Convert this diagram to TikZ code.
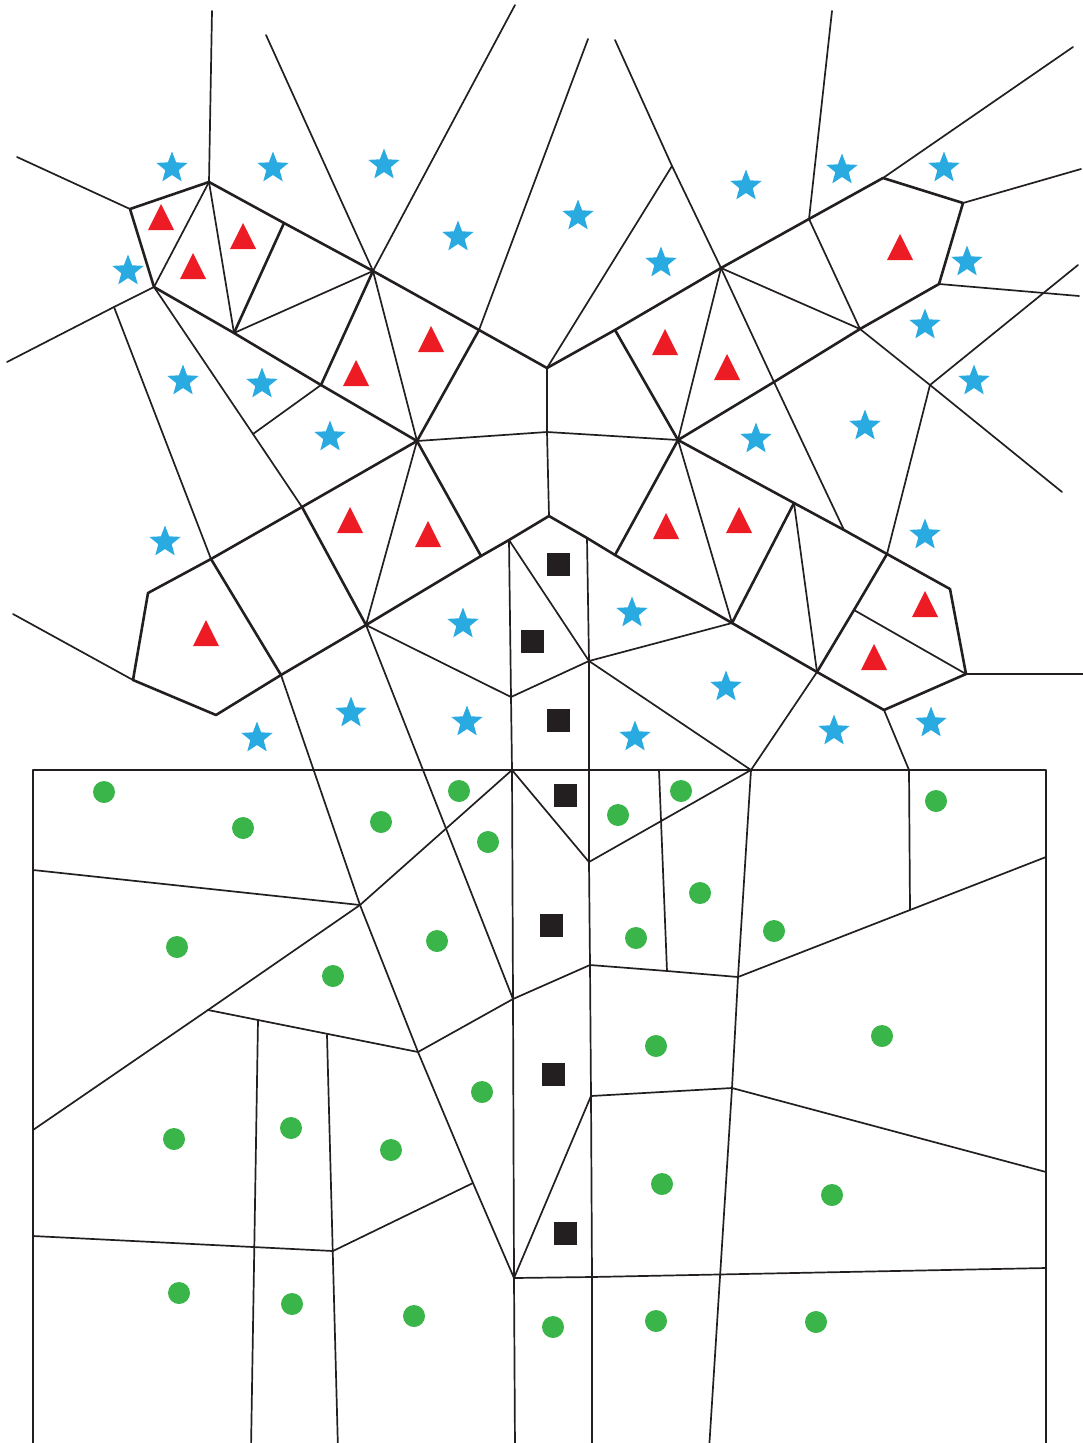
\documentclass[tikz,border=0pt]{standalone}
\usetikzlibrary{shapes.geometric}
\definecolor{lk}{HTML}{231F20}
\definecolor{sb}{HTML}{29ABE2}
\definecolor{trd}{HTML}{ED1C24}
\definecolor{gc}{HTML}{39B54A}
\begin{document}
\begin{tikzpicture}[x=1pt,y=-1pt,
  ln/.style={draw=lk,line width=1.7pt,line cap=round,line join=round},
  lb/.style={draw=lk,line width=2.6pt,line cap=round,line join=round},
  starmark/.style={star,star points=5,star point ratio=2.35,fill=sb,draw=none,inner sep=0pt,minimum size=33pt},
  sqmark/.style={rectangle,fill=lk,draw=none,inner sep=0pt,minimum size=23pt},
  dotmark/.style={circle,fill=gc,draw=none,inner sep=0pt,minimum size=22pt},
  trimark/.pic={\fill[trd] (-13,13) -- (0,-13) -- (13,13) -- cycle;}]
\useasboundingbox (0,0) rectangle (1083,1443);
\clip (0,0) rectangle (1083,1443);
% vertices (upper)
\coordinate (A) at (130,209); \coordinate (B) at (209,182);
\coordinate (C) at (154,287); \coordinate (D1) at (284,223);
\coordinate (E) at (373,271); \coordinate (F) at (234,333);
\coordinate (G) at (321,385); \coordinate (H) at (417,441);
\coordinate (J) at (479,330); \coordinate (K) at (547,368);
\coordinate (L) at (615,330); \coordinate (M) at (721,268);
\coordinate (N) at (672,166); \coordinate (P) at (809,219);
\coordinate (Q) at (883,178); \coordinate (R) at (963,203);
\coordinate (S) at (939,284); \coordinate (T) at (860,329);
\coordinate (U) at (774,382); \coordinate (V) at (678,440);
\coordinate (W) at (930,385); \coordinate (X) at (547,432);
\coordinate (Y) at (549,516); \coordinate (Z) at (114,307);
\coordinate (a1) at (253,434); \coordinate (a2) at (302,507);
\coordinate (a3) at (211,559); \coordinate (a4) at (148,593);
\coordinate (a5) at (133,680); \coordinate (a6) at (216,715);
\coordinate (a7) at (281,675); \coordinate (I) at (366,625);
\coordinate (b1) at (481,556); \coordinate (b2) at (509,540);
\coordinate (b3) at (587,538); \coordinate (b4) at (615,555);
\coordinate (b5) at (732,623); \coordinate (b6) at (794,503);
\coordinate (b7) at (844,530); \coordinate (b8) at (887,554);
\coordinate (b9) at (950,589); \coordinate (b10) at (966,674);
\coordinate (b11) at (884,710); \coordinate (b12) at (817,672);
\coordinate (b13) at (854,610); \coordinate (c1) at (511,697);
\coordinate (c2) at (589,661);
% vertices (lower)
\coordinate (d1) at (512,770); \coordinate (d2) at (589,770);
\coordinate (d3) at (659,770); \coordinate (d4) at (751,770);
\coordinate (d5) at (909,770);
\coordinate (e1) at (360,905); \coordinate (e2) at (33,870);
\coordinate (e3) at (208,1010); \coordinate (e4) at (33,1130);
\coordinate (e5) at (418,1052); \coordinate (e6) at (258,1020);
\coordinate (e7) at (327,1035); \coordinate (e8) at (513,999);
\coordinate (e9) at (589,862); \coordinate (e10) at (590,965);
\coordinate (e11) at (667,971); \coordinate (e12) at (738,977);
\coordinate (e13) at (910,910); \coordinate (e14) at (1046,857);
\coordinate (e15) at (591,1096); \coordinate (e16) at (732,1088);
\coordinate (e17) at (1046,1172); \coordinate (e18) at (514,1278);
\coordinate (e19) at (592,1277); \coordinate (e20) at (1046,1268);
\coordinate (e21) at (473,1183); \coordinate (e22) at (33,1236);
\coordinate (e23) at (333,1251);
% thin upper edges
\draw[ln] (17,157) -- (A);
\draw[ln] (212,11) -- (B);
\draw[ln] (266,35) -- (E);
\draw[ln] (515,5) -- (E);
\draw[ln] (588,39) -- (J);
\draw[ln] (615,40) -- (N) -- (M);
\draw[ln] (832,11) -- (P);
\draw[ln] (1073,47) -- (Q);
\draw[ln] (1081,169) -- (R);
\draw[ln] (1079,296) -- (S);
\draw[ln] (1078,265) -- (W);
\draw[ln] (1062,492) -- (W);
\draw[ln] (1083,674) -- (b10);
\draw[ln] (7,362) -- (Z) -- (C);
\draw[ln] (13,614) -- (a5);
\draw[ln] (B) -- (C);
\draw[ln] (B) -- (F);
\draw[ln] (F) -- (E);
\draw[ln] (E) -- (H);
\draw[ln] (N) -- (K);
\draw[ln] (K) -- (X) -- (Y);
\draw[ln] (M) -- (V);
\draw[ln] (P) -- (T);
\draw[ln] (M) -- (T);
\draw[ln] (M) -- (U) -- (b7);
\draw[ln] (T) -- (W) -- (b8);
\draw[ln] (V) -- (b5);
\draw[ln] (V) -- (X) -- (H);
\draw[ln] (H) -- (I);
\draw[ln] (C) -- (a1) -- (a2);
\draw[ln] (a1) -- (G);
\draw[ln] (Z) -- (a3);
\draw[ln] (b2) -- (c1);
\draw[ln] (b2) -- (c2);
\draw[ln] (b3) -- (c2) -- (d2);
\draw[ln] (I) -- (c1) -- (c2) -- (b5);
\draw[ln] (c2) -- (d4);
\draw[ln] (I) -- (e8);
\draw[ln] (c1) -- (d1);
\draw[ln] (a7) -- (e1);
\draw[ln] (b12) -- (d4);
\draw[ln] (b11) -- (d5);
\draw[ln] (b6) -- (b12);
\draw[ln] (b13) -- (b10);
% bold upper edges
\draw[lb] (B) -- (A) -- (C) -- (F) -- (G);
\draw[lb] (B) -- (D1) -- (E);
\draw[lb] (D1) -- (F);
\draw[lb] (G) -- (E);
\draw[lb] (G) -- (H);
\draw[lb] (E) -- (J) -- (K);
\draw[lb] (J) -- (H);
\draw[lb] (K) -- (L) -- (M) -- (P) -- (Q) -- (R) -- (S) -- (T) -- (U) -- (V);
\draw[lb] (L) -- (V);
\draw[lb] (V) -- (b6) -- (b7) -- (b8) -- (b9) -- (b10) -- (b11) -- (b12) -- (b5) -- (b4) -- (b3) -- (Y) -- (b2) -- (b1) -- (I);
\draw[lb] (V) -- (b4);
\draw[lb] (b6) -- (b5);
\draw[lb] (b8) -- (b13) -- (b12);
\draw[lb] (H) -- (b1);
\draw[lb] (H) -- (a2) -- (a3);
\draw[lb] (a2) -- (I);
\draw[lb] (a3) -- (a4) -- (a5) -- (a6) -- (a7) -- (I);
\draw[lb] (a3) -- (a7);
% frame
\draw[ln,line width=2.2pt,line cap=butt] (33,1450) -- (33,770) -- (1046,770) -- (1046,1450);
% lower edges
\draw[ln] (d2) -- (e9) -- (e10) -- (e15) -- (e19) -- (592,1450);
\draw[ln] (d1) -- (e8) -- (e18) -- (515,1450);
\draw[ln] (d4) -- (e12) -- (e16) -- (709,1450);
\draw[ln] (e19) -- (e20);
\draw[ln] (e18) -- (e19);
\draw[ln] (e16) -- (e17);
\draw[ln] (e15) -- (e16);
\draw[ln] (e10) -- (e11) -- (e12);
\draw[ln] (e12) -- (e13) -- (e14);
\draw[ln] (d3) -- (e11);
\draw[ln] (d5) -- (e13);
\draw[ln] (e9) -- (d4);
\draw[ln] (d1) -- (e9);
\draw[ln] (e8) -- (e10);
\draw[ln] (e5) -- (e8);
\draw[ln] (e5) -- (e21) -- (e18);
\draw[ln] (e21) -- (e23);
\draw[ln] (e22) -- (e23);
\draw[ln] (e15) -- (e18);
\draw[ln] (e1) -- (e2);
\draw[ln] (e1) -- (e3) -- (e4);
\draw[ln] (e3) -- (e5);
\draw[ln] (e1) -- (e5);
\draw[ln] (e1) -- (d1);
\draw[ln] (e6) -- (251,1450);
\draw[ln] (e7) -- (338,1450);
% markers
\foreach \x/\y [count=\i] in {172/168,273/168,384/165,128/271,458/237,578/216,661/263,746/186,842/170,944/168,967/262,925/325,974/381,183/381,262/384,330/437,165/542,756/439,865/426,925/535,463/624,632/613,726/687,834/731,931/723,257/738,351/713,467/722,635/737}
  \node[starmark] (s\i) at (\x,\y) {};
\foreach \x/\y in {161/217,193/266,243/236,431/339,356/373,665/342,727/367,900/247,350/520,428/534,666/526,739/520,206/633,925/604,874/657}
  \pic at (\x,\y) {trimark};
\foreach \x/\y [count=\i] in {558/564,532/641,558/720,565/795,551/925,553/1074,565/1233}
  \node[sqmark] (q\i) at (\x,\y) {};
\foreach \x/\y [count=\i] in {104/792,243/828,381/822,459/791,488/842,618/815,681/791,700/893,636/938,437/941,177/947,333/976,936/801,774/931,882/1036,656/1046,482/1092,174/1139,291/1128,391/1150,662/1184,832/1195,179/1293,292/1304,414/1316,553/1327,656/1321,816/1322}
  \node[dotmark] (g\i) at (\x,\y) {};
\end{tikzpicture}
\end{document}
